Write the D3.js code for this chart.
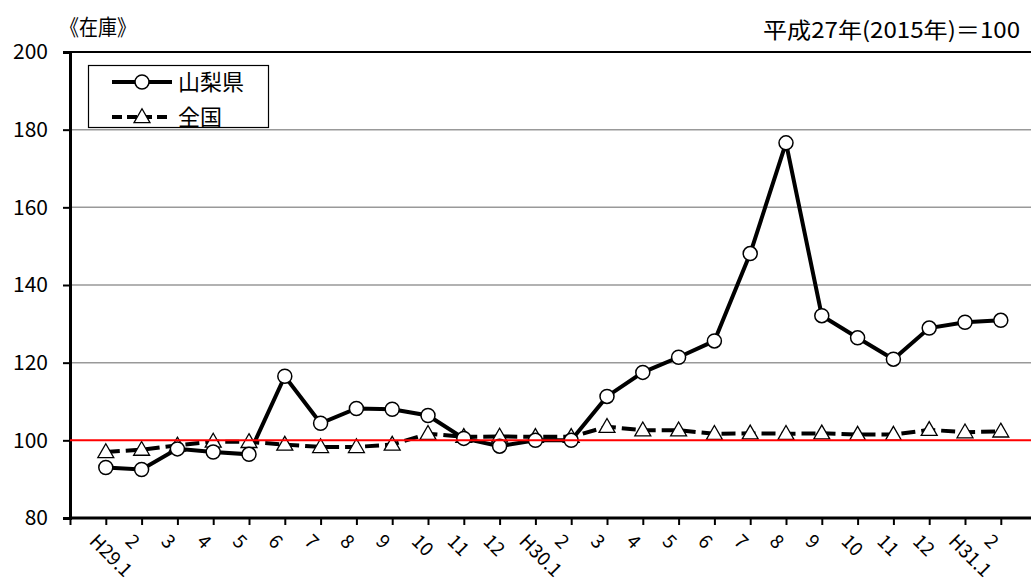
<!DOCTYPE html>
<html><head><meta charset="utf-8">
<script src="https://cdn.jsdelivr.net/npm/d3@7/dist/d3.min.js"></script>
<style>body{margin:0;background:#fff}svg{display:block}text{font-family:"Noto Sans CJK JP","Noto Sans",sans-serif}</style>
</head><body><svg id="c" width="1031" height="585"></svg>
<script>
const categories = ["H29.1","2","3","4","5","6","7","8","9","10","11","12","H30.1","2","3","4","5","6","7","8","9","10","11","12","H31.1","2"];
const yamanashi = [93.0,92.5,97.8,97.0,96.4,116.5,104.4,108.2,108.0,106.4,100.5,98.5,100.0,100.0,111.3,117.5,121.4,125.6,148.1,176.6,132.1,126.4,120.9,128.9,130.4,130.9];
const zenkoku = [97.0,97.6,98.7,99.7,99.6,98.9,98.3,98.3,98.9,101.7,100.9,101.0,100.9,100.9,103.5,102.6,102.6,101.7,101.8,101.7,101.8,101.5,101.5,102.7,102.1,102.3];
const yTicks = [80,100,120,140,160,180,200];
const seriesNames = ["山梨県","全国"];

const svg = d3.select("#c");
const L=70, R=1031, T=52, B=518;
const x = d3.scaleLinear().domain([0,27]).range([L, L+35.8*27]);
const y = d3.scaleLinear().domain([80,200]).range([B,T]);

// gridlines
svg.append("g").selectAll("line").data(yTicks.filter(v=>v>100&&v<200)).join("line")
  .attr("x1",L).attr("x2",R).attr("y1",d=>y(d)).attr("y2",d=>y(d))
  .attr("stroke","#999").attr("stroke-width",1.5);
svg.append("line").attr("x1",L).attr("x2",R).attr("y1",y(200)).attr("y2",y(200)).attr("stroke","#000").attr("stroke-width",2);

// y axis
const ya = svg.append("g").attr("transform",`translate(${L},0)`)
  .call(d3.axisLeft(y).tickValues(yTicks).tickSize(7).tickPadding(15));
ya.select(".domain").attr("stroke","#000").attr("stroke-width",3);
ya.selectAll(".tick line").attr("stroke-width",2);
ya.selectAll("text").attr("font-size",21).attr("font-family","'Liberation Sans',sans-serif").attr("fill","#000");

// x axis
const xa = svg.append("g").attr("transform",`translate(0,${B})`)
  .call(d3.axisBottom(x).tickValues(d3.range(0,27)).tickSize(7).tickFormat(""));
xa.select(".domain").attr("stroke","#000").attr("stroke-width",3).attr("d",`M${L},0H${R}`);
xa.selectAll(".tick line").attr("stroke-width",2);
svg.append("g").selectAll("text").data(categories).join("text")
  .attr("transform",(d,i)=>`translate(${x(i+1)-5},${B+12}) rotate(45)`)
  .attr("font-size",19).attr("font-family","'Liberation Sans',sans-serif")
  .attr("dominant-baseline","hanging").text(d=>d);

// lines
const line = d3.line().x((d,i)=>x(i+1)).y(d=>y(d));
svg.append("path").datum(zenkoku).attr("d",line).attr("fill","none")
  .attr("stroke","#000").attr("stroke-width",4).attr("stroke-dasharray","14,6");
svg.append("path").datum(yamanashi).attr("d",line).attr("fill","none")
  .attr("stroke","#000").attr("stroke-width",4);

const tri = d3.symbol().type(d3.symbolTriangle).size(110);
svg.append("g").selectAll("path").data(zenkoku).join("path")
  .attr("d",tri).attr("transform",(d,i)=>`translate(${x(i+1)},${y(d)+1})`)
  .attr("fill","#fff").attr("stroke","#000").attr("stroke-width",1.3);
svg.append("g").selectAll("circle").data(yamanashi).join("circle")
  .attr("cx",(d,i)=>x(i+1)).attr("cy",d=>y(d)).attr("r",7)
  .attr("fill","#fff").attr("stroke","#000").attr("stroke-width",1.5);

// red 100 line
svg.append("line").attr("x1",L).attr("x2",R).attr("y1",y(100)).attr("y2",y(100)).attr("stroke","#f00").attr("stroke-width",2);

// legend
svg.append("rect").attr("x",88.5).attr("y",65.5).attr("width",180).attr("height",62)
  .attr("fill","#fff").attr("stroke","#000").attr("stroke-width",1.2);
svg.append("line").attr("x1",112).attr("x2",172).attr("y1",82).attr("y2",82).attr("stroke","#000").attr("stroke-width",4);
svg.append("circle").attr("cx",142).attr("cy",82).attr("r",7).attr("fill","#fff").attr("stroke","#000").attr("stroke-width",1.5);
svg.append("line").attr("x1",112).attr("x2",172).attr("y1",117).attr("y2",117).attr("stroke","#000").attr("stroke-width",4).attr("stroke-dasharray","10,5");
svg.append("path").attr("d",tri).attr("transform","translate(142,118)").attr("fill","#fff").attr("stroke","#000").attr("stroke-width",1.3);
svg.append("text").attr("x",178).attr("y",90).attr("font-size",22).text(seriesNames[0]);
svg.append("text").attr("x",178).attr("y",125).attr("font-size",22).text(seriesNames[1]);

// titles
svg.append("text").attr("x",60).attr("y",35).attr("font-size",22).attr("textLength",76).attr("lengthAdjust","spacingAndGlyphs").text("《在庫》");
svg.append("text").attr("x",1020).attr("y",38).attr("text-anchor","end").attr("font-size",22).attr("textLength",257).attr("lengthAdjust","spacingAndGlyphs").text("平成27年(2015年)＝100");
</script></body></html>
